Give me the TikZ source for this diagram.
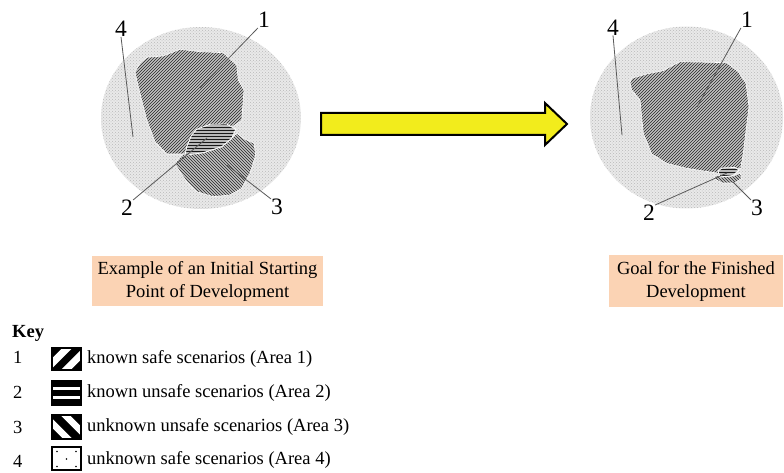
\documentclass[tikz,border=0pt]{standalone}
\usepackage{fontspec}
\setmainfont{Liberation Serif}
\usetikzlibrary{patterns}
\definecolor{arrowyellow}{HTML}{F2EC1C}
\definecolor{peach}{HTML}{FBD3B4}
\begin{document}
\begin{tikzpicture}[x=1pt,y=-1pt,
  bg/.style={preaction={fill=gray!17},pattern=crosshatch dots,pattern color=gray!55},
  areaone/.style={preaction={fill=gray!48},pattern=north east lines,pattern color=black!85,draw=white,line width=0.6pt},
  areatwo/.style={preaction={fill=gray!55},pattern=horizontal lines,pattern color=black!90,draw=white,line width=0.8pt},
  areathree/.style={preaction={fill=gray!48},pattern=north west lines,pattern color=black!85,draw=white,line width=0.6pt},
  lbl/.style={font=\fontsize{23.5}{24}\selectfont,inner sep=0pt},
  leader/.style={draw=black!65,line width=0.8pt},
  capbox/.style={fill=peach,font=\fontsize{18.5}{23}\selectfont,align=center,inner sep=0pt},
  keytxt/.style={font=\fontsize{18.5}{20}\selectfont,anchor=west,inner sep=0pt},
  keyframe/.style={draw=black,line width=1.6pt}
]
\useasboundingbox (0,0) rectangle (784,473);

% ---------- left figure ----------
\path[bg] (201,118) ellipse [x radius=100, y radius=91];
\path[areaone] (135,71.7) -- (140,63.3) -- (146.7,57.3) -- (163.3,56) -- (180,49.3) -- (200,51.7)
  -- (223.3,52.7) -- (236.7,65) -- (238.3,80) -- (244,90) -- (241.7,120.7) -- (233.3,126)
  -- (190,140) -- (185,154) -- (166.7,154) -- (155,141.7) -- (146.7,120) -- (140,93.3)
  -- (136.7,80) -- cycle;
\path[areathree] (183.3,154) -- (203.3,152.7) -- (221.7,146.7) -- (231.7,138.3) -- (236.7,133.3)
  -- (245,139.3) -- (254,143.3) -- (255.7,155) -- (250,173.3) -- (241.7,188.3) -- (230,195)
  -- (213.3,196.7) -- (196.7,191.7) -- (186.7,181.7) -- (180,171.7) -- (175,164) -- (178.3,159.3) -- cycle;
\path[areatwo] (196.7,129.3) -- (210,124.3) -- (226.7,124) -- (235.7,129.3) -- (231.7,138.3)
  -- (221.7,146.7) -- (203.3,152.7) -- (185,155.3) -- (186.7,146.7) -- (191.7,135) -- cycle;

\node[lbl] (L4) at (121,29) {4};
\node[lbl] (L1) at (264,20) {1};
\node[lbl] (L2) at (127,208) {2};
\node[lbl] (L3) at (277,207) {3};
\coordinate (e4) at (133,137);
\coordinate (e1) at (200,88);
\coordinate (e2) at (207,138);
\coordinate (e3) at (227,165);
\draw[leader] (L4.south) -- (e4);
\draw[leader] (L1.south west) -- (e1);
\draw[leader] (L2.north east) -- (e2);
\draw[leader] (L3.north west) -- (e3);

% ---------- right figure ----------
\path[bg] (686.5,117.5) ellipse [x radius=96.5, y radius=91];
\path[areaone] (631.7,78.3) -- (646.7,74) -- (663,70.7) -- (680,61.7) -- (726.7,62.7) -- (738.3,71.7)
  -- (746,83.3) -- (749,106.7) -- (745.7,133.3) -- (743.3,153.3) -- (740.7,168.3) -- (718.3,173.3)
  -- (686.7,168.3) -- (666.7,163.3) -- (651.7,154) -- (643.3,133.3) -- (640,100) -- (631.7,90)
  -- (630,82.7) -- cycle;
\path[areathree] (715,175) -- (721,177) -- (733,176) -- (740,173) -- (742,178) -- (735,183)
  -- (722,183) -- (715,179) -- cycle;
\path[areatwo] (718,171) -- (722,168) -- (735,167.5) -- (739,170) -- (733,175.5) -- (720,177) -- cycle;

\node[lbl] (R4) at (613,27.5) {4};
\node[lbl] (R1) at (747,20) {1};
\node[lbl] (R2) at (649,213) {2};
\node[lbl] (R3) at (757,208) {3};
\coordinate (f4) at (622,135);
\coordinate (f1) at (697,107);
\coordinate (f2) at (727,173);
\coordinate (f3) at (733,182);
\draw[leader] (R4.south) -- (f4);
\draw[leader] (R1.south west) -- (f1);
\draw[leader] (R2.north east) -- (f2);
\draw[leader] (R3.north west) -- (f3);

% ---------- arrow ----------
\draw[fill=arrowyellow,line width=2pt,line join=miter]
  (321,113) -- (545,113) -- (545,103) -- (567,124) -- (545,145) -- (545,135) -- (321,135) -- cycle;

% ---------- captions ----------
\node[capbox,minimum width=231pt,minimum height=50pt] (cap1) at (207.5,281)
  {Example of an Initial Starting\\Point of Development};
\node[capbox,minimum width=174pt,minimum height=52pt] (cap2) at (696,281)
  {Goal for the Finished\\Development};

% ---------- key ----------
\node[keytxt,font=\fontsize{18.5}{20}\selectfont\bfseries] (key) at (12,333) {Key};
\node[keytxt] (n1) at (13,357.5) {1};
\node[keytxt] (n2) at (13,392) {2};
\node[keytxt] (n3) at (13,427.5) {3};
\node[keytxt] (n4) at (13,461) {4};
\node[keytxt] (t1) at (87,359) {known safe scenarios (Area 1)};
\node[keytxt] (t2) at (87,393) {known unsafe scenarios (Area 2)};
\node[keytxt] (t3) at (87,427) {unknown unsafe scenarios (Area 3)};
\node[keytxt] (t4) at (87,460) {unknown safe scenarios (Area 4)};

% icon 1
\begin{scope}
  \clip (52,348) rectangle (81,370);
  \fill[black] (52,348) rectangle (81,370);
  \draw[white,line width=7pt] (40,375.3) -- (90,325.3);
  \draw[white,line width=7pt] (40,395.7) -- (90,345.7);
\end{scope}
\draw[keyframe] (52,348) rectangle (81,370);
% icon 2
\fill[black] (52,381) rectangle (81,405);
\draw[white,line width=3.5pt] (53,388.5) -- (80,388.5);
\draw[white,line width=3.5pt] (53,397.5) -- (80,397.5);
\draw[keyframe] (52,381) rectangle (81,405);
% icon 3
\begin{scope}
  \clip (52,415) rectangle (81,439);
  \fill[black] (52,415) rectangle (81,439);
  \draw[white,line width=6.5pt] (40,390) -- (90,440);
  \draw[white,line width=6.5pt] (40,411) -- (90,461);
\end{scope}
\draw[keyframe] (52,415) rectangle (81,439);
% icon 4
\draw[black,line width=1.2pt] (52,447) rectangle (81,470);
\foreach \p in {(57,451.5),(76,451.5),(66.5,459),(57,466.5),(76,466.5)}
  \fill[black] \p circle (0.9);
\end{tikzpicture}
\end{document}
